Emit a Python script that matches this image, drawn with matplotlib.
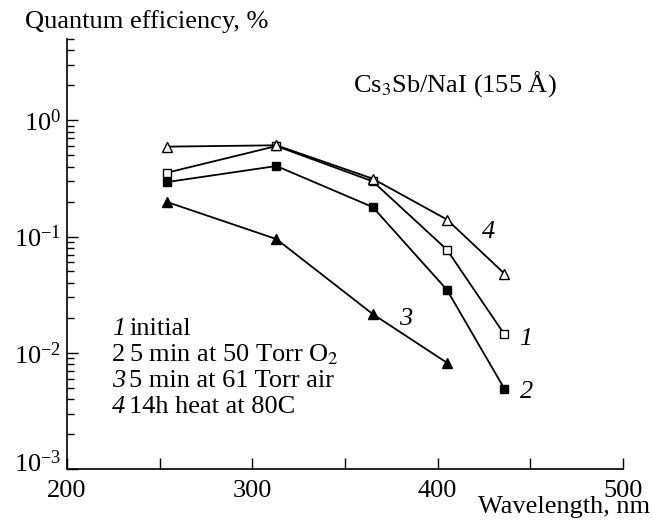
import matplotlib
matplotlib.use("Agg")
import matplotlib.pyplot as plt
import matplotlib.transforms as mtransforms
from matplotlib.ticker import LogLocator, MultipleLocator, NullFormatter

plt.rcParams["font.family"] = ["Liberation Serif", "DejaVu Serif"]
plt.rcParams["mathtext.fontset"] = "stix"

# wavelengths (nm) of the Hg lines
wavelength = [254, 313, 365, 405, 436]
qe_initial = [0.354, 0.60, 0.298, 0.077, 0.0144]  # 1, open squares
qe_o2 = [0.294, 0.404, 0.179, 0.0348, 0.0049]     # 2, filled squares
qe_air = [0.198, 0.095, 0.0215, 0.0082]           # 3, filled triangles
qe_heat = [0.593, 0.609, 0.314, 0.14, 0.048]      # 4, open triangles

curve_nums = ["1", "2", "3", "4"]
num_italic = [True, False, True, True]
legend_text = [
    "initial",
    "5 min at 50 Torr O$_2$",
    "5 min at 61 Torr air",
    "14h heat at 80C",
]

FS = 19

fig = plt.figure(figsize=(6.52, 5.29), dpi=100)
ax = fig.add_axes([67 / 652, 1 - 469 / 529, 556 / 652, 430 / 529])

kw = dict(color="black", lw=1.3, zorder=2)
ax.plot(wavelength, qe_initial, marker="s", ms=6, mfc="white", mec="black", mew=1.0, **kw)
ax.plot(wavelength, qe_o2, marker="s", ms=6, mfc="black", mec="black", **kw)
ax.plot(wavelength[:4], qe_air, marker="^", ms=7.5, mfc="black", mec="black", **kw)
ax.plot(wavelength, qe_heat, marker="^", ms=7.5, mfc="white", mec="black", mew=1.0, **kw)

ax.set_yscale("log")
ax.set_xlim(200, 500)
ax.set_ylim(1e-3, 5)

ax.xaxis.set_major_locator(MultipleLocator(100))
ax.xaxis.set_minor_locator(MultipleLocator(50))
ax.yaxis.set_major_locator(LogLocator(base=10, numticks=10))
ax.yaxis.set_minor_locator(LogLocator(base=10, subs=range(2, 10), numticks=20))
ax.yaxis.set_minor_formatter(NullFormatter())

ax.tick_params(axis="both", which="both", direction="in", labelsize=FS, width=1.0)
ax.tick_params(axis="x", which="both", length=8, pad=8)
ax.tick_params(axis="y", which="major", length=8, pad=4)
ax.tick_params(axis="y", which="minor", length=5)

# the bottom y label (10^-3) sits a bit higher, level with the x axis
for loc, tick in zip(ax.yaxis.get_majorticklocs(), ax.yaxis.get_major_ticks()):
    if abs(loc - 1e-3) < 1e-9:
        lab = tick.label1
        lab.set_transform(mtransforms.offset_copy(lab.get_transform(), fig=fig,
                                                  y=8, units="dots"))

for side in ("top", "right"):
    ax.spines[side].set_visible(False)
for side in ("left", "bottom"):
    ax.spines[side].set_linewidth(1.2)

# curve numbers next to the curves
ax.text(427.5, 0.11, "4", style="italic", fontsize=FS, ha="center", va="center")
ax.text(447.5, 0.0131, "1", style="italic", fontsize=FS, ha="center", va="center")
ax.text(448, 0.0046, "2", style="italic", fontsize=FS, ha="center", va="center")
ax.text(383, 0.0195, "3", style="italic", fontsize=FS, ha="center", va="center")

fig.text(557 / 652, 1 - 92 / 529, r"Cs$_3$Sb/NaI (155 Å)", fontsize=FS,
         ha="right", va="baseline")

# hand-made legend
for i, (num, it, txt) in enumerate(zip(curve_nums, num_italic, legend_text)):
    y = 1 - (335 + i * 26) / 529
    fig.text(112 / 652, y, num, fontsize=FS, style="italic" if it else "normal",
             ha="left", va="baseline")
    fig.text(129 / 652, y, txt, fontsize=FS, ha="left", va="baseline")

fig.text(25 / 652, 1 - 28 / 529, "Quantum efficiency, %", fontsize=FS, ha="left", va="baseline")
fig.text(650 / 652, 1 - 513 / 529, "Wavelength, nm", fontsize=FS, ha="right", va="baseline")

fig.savefig("out.png", dpi=100)
